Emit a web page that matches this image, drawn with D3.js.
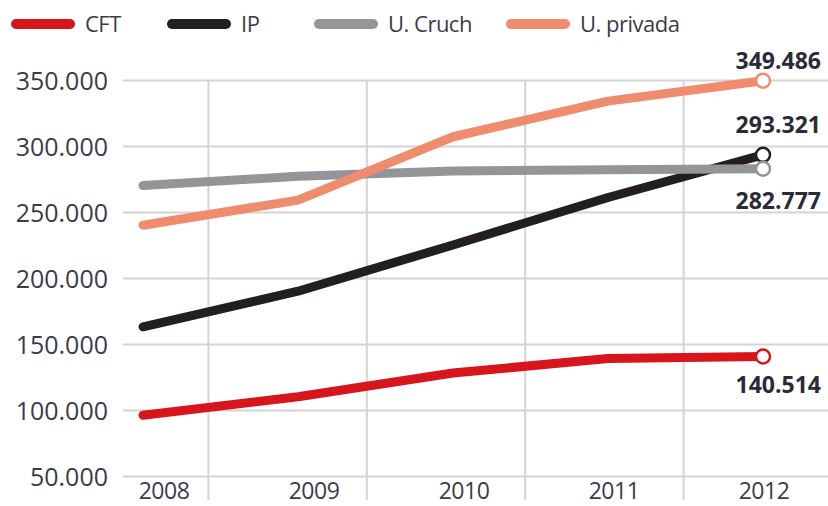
<!DOCTYPE html>
<html>
<head>
<meta charset="utf-8">
<script src="https://cdn.jsdelivr.net/npm/d3@7"></script>
<style>
  body { margin: 0; background: #fff; }
  svg { display: block; }
  .tick text { font-family: "Open Sans", Roboto, sans-serif; }
</style>
</head>
<body>
<div id="chart"></div>
<script>
// Data
const years = ["2008", "2009", "2010", "2011", "2012"];
const cft = [96000, 110000, 128000, 139000, 140514];
const ip = [163000, 190000, 225000, 261000, 293321];
const cruch = [270000, 277000, 281000, 282000, 282777];
const privada = [240000, 259000, 307000, 334000, 349486];
const yTicks = [50000, 100000, 150000, 200000, 250000, 300000, 350000];

const series = [
  { name: "CFT", values: cft, color: "#d7161b", labelDy: 36 },
  { name: "IP", values: ip, color: "#231f20", labelDy: -22 },
  { name: "U. Cruch", values: cruch, color: "#939598", labelDy: 40 },
  { name: "U. privada", values: privada, color: "#f08c6e", labelDy: -12 }
];

const width = 828, height = 506;
const textColor = "#3b3b4b";
const loc = d3.formatLocale({ decimal: ",", thousands: ".", grouping: [3], currency: ["", ""] });
const fmt = loc.format(",d");

const svg = d3.select("#chart").append("svg")
  .attr("width", width)
  .attr("height", height);

const y = d3.scaleLinear().domain([50000, 350000]).range([476, 80]);
const x = d3.scalePoint().domain(years).range([143, 763]);
const xLab = d3.scalePoint().domain(years).range([164, 764]);
const xBand = d3.scaleBand().domain(years).range([50, 842]);

// horizontal grid + y labels
const yAxis = svg.append("g")
  .attr("transform", "translate(123,0)")
  .call(d3.axisLeft(y).tickValues(yTicks).tickFormat(fmt).tickSize(-(width - 123)).tickPadding(15));
yAxis.select(".domain").remove();
yAxis.selectAll(".tick line").attr("stroke", "#d4d4d6").attr("stroke-width", 2);
yAxis.selectAll(".tick text")
  .attr("fill", textColor)
  .attr("font-size", 25)
  .attr("dy", "0.36em");

// vertical grid
svg.append("g").selectAll("line")
  .data(years.slice(1))
  .join("line")
  .attr("x1", d => xBand(d))
  .attr("x2", d => xBand(d))
  .attr("y1", 80)
  .attr("y2", 500)
  .attr("stroke", "#d4d4d6")
  .attr("stroke-width", 2);

// year labels
svg.append("g").selectAll("text")
  .data(years)
  .join("text")
  .attr("x", d => xLab(d))
  .attr("y", 499)
  .attr("text-anchor", "middle")
  .attr("fill", textColor)
  .attr("font-family", "Open Sans, Roboto, sans-serif")
  .attr("font-size", 23)
  .attr("letter-spacing", -0.5)
  .text(d => d);

// lines
const line = d3.line()
  .x((d, i) => x(years[i]))
  .y(d => y(d));

svg.append("g").selectAll("path")
  .data(series)
  .join("path")
  .attr("d", d => line(d.values))
  .attr("fill", "none")
  .attr("stroke", d => d.color)
  .attr("stroke-width", 9)
  .attr("stroke-linecap", "round")
  .attr("stroke-linejoin", "round");

// end markers
const last = years.length - 1;
svg.append("g").selectAll("circle")
  .data(series)
  .join("circle")
  .attr("cx", x(years[last]))
  .attr("cy", d => y(d.values[last]))
  .attr("r", 7)
  .attr("fill", "#fff")
  .attr("stroke", d => d.color)
  .attr("stroke-width", 2.5);

// end value labels
svg.append("g").selectAll("text")
  .data(series)
  .join("text")
  .attr("x", 821)
  .attr("y", d => y(d.values[last]) + d.labelDy)
  .attr("text-anchor", "end")
  .attr("fill", "#2b2b38")
  .attr("font-family", "Open Sans, Roboto, sans-serif")
  .attr("font-weight", "bold")
  .attr("font-size", 23)
  .text(d => fmt(d.values[last]));

// legend
const legendX = [12, 168, 315, 507];
const leg = svg.append("g").selectAll("g")
  .data(series)
  .join("g")
  .attr("transform", (d, i) => `translate(${legendX[i]},24)`);
leg.append("line")
  .attr("x1", 4).attr("x2", 58)
  .attr("stroke", d => d.color)
  .attr("stroke-width", 10)
  .attr("stroke-linecap", "round");
leg.append("text")
  .attr("x", 73)
  .attr("y", 8)
  .attr("fill", textColor)
  .attr("font-family", "Open Sans, Roboto, sans-serif")
  .attr("font-size", 22)
  .attr("letter-spacing", -0.5)
  .text(d => d.name);
</script>
</body>
</html>
